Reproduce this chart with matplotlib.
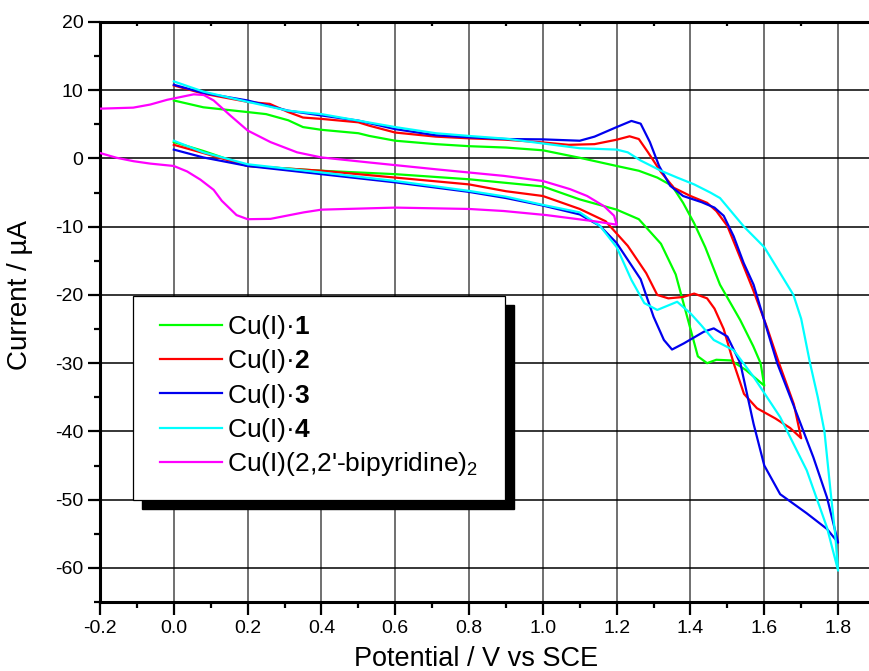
import numpy as np
import matplotlib
matplotlib.use("Agg")
import matplotlib.pyplot as plt
from matplotlib.patches import Rectangle
from matplotlib.ticker import MultipleLocator

plt.rcParams['font.family'] = ['Liberation Sans', 'DejaVu Sans']
plt.rcParams['mathtext.fontset'] = 'custom'
plt.rcParams['mathtext.rm'] = 'Liberation Sans'
plt.rcParams['mathtext.bf'] = 'Liberation Sans:bold'
plt.rcParams['mathtext.it'] = 'Liberation Sans:italic'
plt.rcParams['axes.unicode_minus'] = False

# Cu(I).1 - forward (lower) and return (upper) branches
cu1_fwd_x = [0, 0.08, 0.2, 0.4, 0.6, 0.8, 1.0, 1.1, 1.2, 1.26, 1.32, 1.36, 1.39, 1.42, 1.445, 1.47, 1.51, 1.55, 1.6]
cu1_fwd_y = [2.4, 1.1, -1.1, -1.8, -2.3, -3.05, -4.1, -6.0, -7.5, -8.9, -12.5, -17.0, -23.0, -29.0, -30.0, -29.5, -29.6, -31.0, -33.3]
cu1_ret_x = [0, 0.08, 0.2, 0.25, 0.31, 0.35, 0.4, 0.5, 0.53, 0.6, 0.71, 0.8, 0.9, 1.0, 1.1, 1.2, 1.26, 1.31,
             1.35, 1.38, 1.41, 1.44, 1.48, 1.535, 1.57, 1.59, 1.6]
cu1_ret_y = [8.5, 7.5, 6.8, 6.5, 5.6, 4.6, 4.2, 3.7, 3.3, 2.6, 2.1, 1.8, 1.6, 1.2, 0.1, -1.1, -1.8, -2.8,
             -4.0, -6.5, -9.5, -13.0, -18.5, -23.7, -27.5, -30.0, -33.3]

# Cu(I).2
cu2_fwd_x = [0, 0.08, 0.2, 0.4, 0.5, 0.6, 0.8, 0.9, 1.0, 1.1, 1.17, 1.23, 1.28, 1.31, 1.34, 1.38, 1.41, 1.445,
             1.465, 1.49, 1.517, 1.545, 1.58, 1.63, 1.67, 1.7]
cu2_fwd_y = [2.0, 0.8, -1.1, -1.8, -2.3, -2.8, -3.8, -4.8, -5.5, -7.4, -9.2, -12.8, -16.8, -20.0, -20.5, -20.3,
             -19.8, -20.5, -22.0, -25.0, -30.0, -34.5, -36.6, -38.1, -39.5, -41.0]
cu2_ret_x = [0, 0.08, 0.2, 0.26, 0.31, 0.35, 0.4, 0.5, 0.53, 0.6, 0.71, 0.8, 0.9, 1.0, 1.07, 1.14, 1.2, 1.235,
             1.26, 1.285, 1.32, 1.355, 1.4, 1.445, 1.47, 1.5, 1.53, 1.57, 1.607, 1.64, 1.68, 1.7]
cu2_ret_y = [10.7, 9.5, 8.3, 8.0, 6.8, 6.0, 5.8, 5.3, 4.8, 3.8, 3.2, 2.95, 2.75, 2.35, 2.0, 2.1, 2.75, 3.25,
             2.85, 0.9, -2.0, -4.3, -5.5, -6.5, -7.7, -9.9, -13.9, -19.3, -24.7, -30.0, -36.0, -41.0]

# Cu(I).3
cu3_fwd_x = [0, 0.08, 0.2, 0.4, 0.6, 0.8, 0.9, 1.0, 1.1, 1.155, 1.2, 1.265, 1.3, 1.328, 1.35, 1.382, 1.436,
             1.463, 1.5, 1.535, 1.571, 1.6, 1.643, 1.715, 1.77, 1.8]
cu3_fwd_y = [1.3, 0.15, -1.1, -2.3, -3.5, -4.9, -5.8, -6.9, -8.2, -9.9, -12.4, -17.7, -23.2, -26.6, -28.0,
             -27.1, -25.4, -24.9, -26.1, -30.0, -38.9, -45.0, -49.2, -52.0, -54.3, -56.3]
cu3_ret_x = [0, 0.08, 0.2, 0.31, 0.4, 0.5, 0.6, 0.71, 0.8, 0.9, 1.0, 1.1, 1.14, 1.2, 1.24, 1.265, 1.29, 1.315,
             1.345, 1.38, 1.43, 1.465, 1.49, 1.517, 1.544, 1.571, 1.607, 1.635, 1.688, 1.733, 1.77, 1.8]
cu3_ret_y = [10.8, 9.6, 8.5, 7.0, 6.3, 5.55, 4.3, 3.4, 3.1, 2.85, 2.8, 2.6, 3.2, 4.6, 5.5, 5.1, 2.4, -1.1,
             -4.0, -5.5, -6.4, -7.2, -8.4, -11.4, -15.3, -18.5, -25.0, -30.0, -37.4, -43.8, -49.7, -56.3]

# Cu(I).4
cu4_fwd_x = [0, 0.08, 0.2, 0.4, 0.6, 0.8, 0.9, 1.0, 1.1, 1.155, 1.2, 1.24, 1.275, 1.31, 1.364, 1.4, 1.43,
             1.463, 1.517, 1.571, 1.643, 1.715, 1.77, 1.8]
cu4_fwd_y = [2.6, 0.9, -0.85, -2.05, -3.3, -4.75, -5.6, -6.8, -7.9, -9.9, -13.0, -17.8, -21.2, -22.2, -21.0,
             -22.7, -24.5, -26.6, -28.1, -32.0, -37.9, -45.7, -54.1, -60.4]
cu4_ret_x = [0, 0.08, 0.2, 0.31, 0.4, 0.5, 0.6, 0.71, 0.8, 0.9, 1.0, 1.1, 1.2, 1.23, 1.265, 1.32, 1.364, 1.41,
             1.454, 1.48, 1.545, 1.6, 1.643, 1.679, 1.7, 1.724, 1.745, 1.763, 1.78, 1.792, 1.8]
cu4_ret_y = [11.3, 9.8, 8.3, 7.0, 6.5, 5.55, 4.6, 3.7, 3.3, 2.9, 2.2, 1.5, 1.3, 0.9, -0.3, -1.8, -2.8, -3.8,
             -5.0, -5.8, -10.0, -13.0, -16.8, -20.0, -23.5, -30.0, -35.0, -40.0, -49.0, -55.0, -60.4]

# Cu(I)(2,2'-bipyridine)2
bipy_fwd_x = [-0.2, -0.11, -0.064, -0.018, 0, 0.054, 0.081, 0.108, 0.153, 0.2, 0.262, 0.334, 0.4, 0.532, 0.713,
              0.894, 1.0, 1.074, 1.12, 1.166, 1.193, 1.2]
bipy_fwd_y = [7.3, 7.45, 7.9, 8.6, 8.8, 9.4, 9.3, 8.5, 6.3, 4.1, 2.4, 0.9, 0.15, -0.6, -1.6,
              -2.55, -3.3, -4.5, -5.5, -7.0, -8.4, -9.7]
bipy_ret_x = [1.2, 1.139, 1.01, 0.894, 0.8, 0.6, 0.4, 0.352, 0.262, 0.2, 0.17, 0.13, 0.108, 0.072, 0.036, 0,
              -0.064, -0.109, -0.155, -0.2]
bipy_ret_y = [-9.7, -9.2, -8.3, -7.7, -7.4, -7.2, -7.5, -7.9, -8.85, -8.9, -8.3, -6.2, -4.6, -3.1, -1.9, -1.1,
              -0.75, -0.4, 0.1, 0.8]

labels = ['Cu(I)\u00b7$\\mathbf{1}$', 'Cu(I)\u00b7$\\mathbf{2}$', 'Cu(I)\u00b7$\\mathbf{3}$',
          'Cu(I)\u00b7$\\mathbf{4}$', "Cu(I)(2,2'-bipyridine)$_2$"]
colors = ['#00ff00', '#ff0000', '#0000ee', '#00ffff', '#ff00ff']

curves = [
    (cu1_fwd_x, cu1_fwd_y, cu1_ret_x, cu1_ret_y),
    (cu2_fwd_x, cu2_fwd_y, cu2_ret_x, cu2_ret_y),
    (cu3_fwd_x, cu3_fwd_y, cu3_ret_x, cu3_ret_y),
    (cu4_fwd_x, cu4_fwd_y, cu4_ret_x, cu4_ret_y),
]

fig = plt.figure(figsize=(8.69, 6.71), dpi=100)
ax = fig.add_axes([100 / 869, 69 / 671, 775 / 869, 580 / 671])

for (fx, fy, rx, ry), lab, col in zip(curves, labels[:4], colors[:4]):
    xs = list(fx) + list(rx[::-1])
    ys = list(fy) + list(ry[::-1])
    ax.plot(xs, ys, color=col, lw=1.6, label=lab, zorder=3)
ax.plot(bipy_fwd_x + bipy_ret_x, bipy_fwd_y + bipy_ret_y, color=colors[4], lw=1.6, label=labels[4], zorder=3)

ax.set_xlim(-0.2, 1.9)
ax.set_ylim(-65, 20)

xt = np.arange(-0.2, 1.81, 0.2)
ax.set_xticks(xt)
ax.set_xticklabels([f'{v:.1f}' for v in xt])
ax.xaxis.set_minor_locator(MultipleLocator(0.1))
ax.yaxis.set_major_locator(MultipleLocator(10))
ax.yaxis.set_minor_locator(MultipleLocator(5))

for v in np.arange(0.0, 1.81, 0.2):
    ax.axvline(v, color='#707070', lw=1.4, zorder=1)
for v in range(-60, 11, 10):
    ax.axhline(v, color='black', lw=1.1, zorder=1)

for s in ['left', 'bottom', 'top']:
    ax.spines[s].set_linewidth(2.2)
ax.spines['right'].set_visible(False)

ax.tick_params(axis='y', which='major', direction='out', length=9, width=1.6, labelsize=14, pad=3)
ax.tick_params(axis='y', which='minor', direction='out', length=4.5, width=1.6)
ax.tick_params(axis='x', which='major', bottom=True, top=False, direction='out', length=9, width=1.6,
               labelsize=14, pad=4)
ax.tick_params(axis='x', which='minor', bottom=True, top=True, direction='out', length=4.5, width=1.6)
for t in ax.xaxis.get_minor_ticks():
    t.tick2line.set_markersize(3)
    t.tick2line.set_marker(3)

ax.set_xlabel('Potential / V vs SCE', fontsize=19.5)
ax.xaxis.set_label_coords(0.485, -0.075)
ax.set_ylabel('Current / \u00b5A', fontsize=20)
ax.yaxis.set_label_coords(-0.087, 0.53)

# legend box with a solid black shadow
bx0, by0 = (133 - 100) / 775, (602 - 500) / 580
bw, bh = (505 - 133) / 775, (500 - 296) / 580
ax.add_patch(Rectangle((bx0 + 9 / 775, by0 - 9 / 580), bw, bh, transform=ax.transAxes,
                       facecolor='black', edgecolor='black', zorder=5))
ax.add_patch(Rectangle((bx0, by0), bw, bh, transform=ax.transAxes,
                       facecolor='white', edgecolor='black', lw=0.9, zorder=6))
leg = ax.legend(loc='upper left', bbox_to_anchor=((160 - 100) / 775, (602 - 313) / 580),
                frameon=False, fontsize=19, borderpad=0, borderaxespad=0,
                handlelength=2.35, handletextpad=0.2, labelspacing=0.24)
leg.set_zorder(7)

fig.savefig('out.png', dpi=100)
